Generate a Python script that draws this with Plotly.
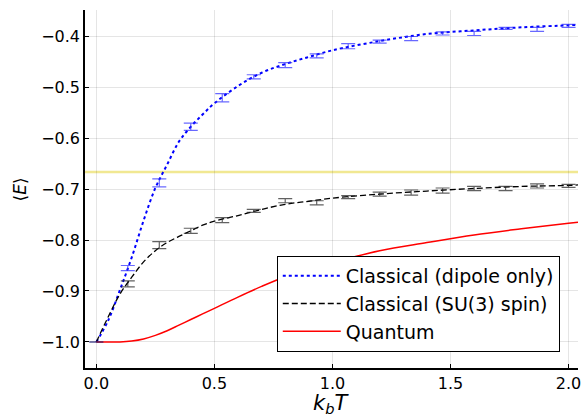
import plotly.graph_objects as go

# ---------------- data ----------------
T_mc = [0.0, 0.1333, 0.2667, 0.4, 0.5333, 0.6667, 0.8, 0.9333, 1.0667, 1.2,
        1.3333, 1.4667, 1.6, 1.7333, 1.8667, 2.0]
E_dipole = [-1.0, -0.855, -0.688, -0.578, -0.521, -0.480, -0.457, -0.439, -0.420,
            -0.411, -0.405, -0.395, -0.395, -0.385, -0.387, -0.380]
err_dipole = [0.0, 0.005, 0.008, 0.007, 0.008, 0.004, 0.005, 0.004, 0.005,
              0.003, 0.004, 0.003, 0.004, 0.002, 0.004, 0.003]
E_su3 = [-1.0, -0.886, -0.810, -0.782, -0.761, -0.743, -0.723, -0.727, -0.716,
         -0.710, -0.707, -0.703, -0.699, -0.699, -0.694, -0.694]
err_su3 = [0.0, 0.006, 0.007, 0.005, 0.005, 0.003, 0.004, 0.004, 0.003,
           0.004, 0.005, 0.005, 0.004, 0.004, 0.004, 0.003]

T_curve = [0.0, 0.05, 0.1, 0.15, 0.2, 0.25, 0.3, 0.35, 0.4, 0.45, 0.5, 0.6, 0.7,
           0.8, 0.9, 1.0, 1.2, 1.4, 1.6, 1.8, 2.0, 2.04]
fit_dipole = [-1.0, -0.958, -0.898, -0.834, -0.762, -0.698, -0.652, -0.607, -0.578,
              -0.554, -0.532, -0.498, -0.472, -0.455, -0.441, -0.428, -0.410,
              -0.396, -0.389, -0.383, -0.379, -0.378]
fit_su3 = [-1.0, -0.951, -0.906, -0.873, -0.843, -0.821, -0.805, -0.793, -0.782,
           -0.771, -0.763, -0.752, -0.740, -0.730, -0.724, -0.718, -0.710,
           -0.704, -0.699, -0.695, -0.693, -0.692]
quantum = [-1.0, -1.0, -0.9998, -0.998, -0.994, -0.987, -0.978, -0.967, -0.956,
           -0.945, -0.934, -0.912, -0.891, -0.872, -0.857, -0.844, -0.821,
           -0.805, -0.790, -0.778, -0.767, -0.765]

E_ref = -2.0 / 3.0
x_ticks = [0.0, 0.5, 1.0, 1.5, 2.0]
x_labels = ["0.0", "0.5", "1.0", "1.5", "2.0"]
y_ticks = [-1.0, -0.9, -0.8, -0.7, -0.6, -0.5, -0.4]
y_labels = ["\u22121.0", "\u22120.9", "\u22120.8", "\u22120.7", "\u22120.6", "\u22120.5", "\u22120.4"]

FONT = "DejaVu Sans"

fig = go.Figure()

# reference horizontal line
fig.add_hline(y=E_ref, line=dict(color="rgba(236,224,110,0.75)", width=2.5), layer="below")

# fit curves
fig.add_trace(go.Scatter(x=T_curve, y=fit_dipole, mode="lines", name="Classical (dipole only)",
                         line=dict(color="blue", width=2, dash="dot", shape="spline")))
fig.add_trace(go.Scatter(x=T_curve, y=fit_su3, mode="lines", name="Classical (SU(3) spin)",
                         line=dict(color="black", width=1.3, dash="6px,3px", shape="spline")))
fig.add_trace(go.Scatter(x=T_curve, y=quantum, mode="lines", name="Quantum",
                         line=dict(color="red", width=1.5, shape="spline")))

# error bars for MC data
fig.add_trace(go.Scatter(x=T_mc, y=E_dipole, mode="markers", showlegend=False,
                         marker=dict(size=1, color="rgba(0,0,255,0)"),
                         error_y=dict(type="data", array=err_dipole, visible=True,
                                      color="rgba(40,40,255,0.7)", thickness=1.2, width=7)))
fig.add_trace(go.Scatter(x=T_mc, y=E_su3, mode="markers", showlegend=False,
                         marker=dict(size=1, color="rgba(0,0,0,0)"),
                         error_y=dict(type="data", array=err_su3, visible=True,
                                      color="rgba(30,30,30,0.7)", thickness=1.2, width=7)))

axis_common = dict(showline=True, linecolor="black", linewidth=1.5, mirror=False,
                   showgrid=True, gridcolor="rgba(0,0,0,0.1)", gridwidth=1,
                   ticks="inside", ticklen=4, tickcolor="black", tickwidth=1,
                   zeroline=False, automargin=False,
                   tickfont=dict(family=FONT, size=16, color="black"))

fig.update_layout(
    width=587, height=418,
    margin=dict(l=85, r=9, t=10, b=50),
    paper_bgcolor="white", plot_bgcolor="white",
    font=dict(family=FONT, color="black"),
    xaxis=dict(range=[-0.048, 2.04], tickvals=x_ticks, ticktext=x_labels, **axis_common),
    yaxis=dict(range=[-1.051, -0.349], tickvals=y_ticks, ticktext=y_labels, **axis_common),
    legend=dict(x=0.389, y=0.313, xanchor="left", yanchor="top",
                bgcolor="white", bordercolor="black", borderwidth=1,
                font=dict(family=FONT, size=19, color="black"),
                itemwidth=58),
    showlegend=True,
    annotations=[
        dict(text="<i>k</i><sub><i>b</i></sub><i>T</i>", xref="paper", yref="paper",
             x=0.5, y=-0.1, xanchor="center", yanchor="middle", showarrow=False,
             font=dict(family=FONT, size=21, color="black")),
        dict(text="\u27e8<i>E</i>\u27e9", xref="paper", yref="paper",
             x=-0.131, y=0.5, xanchor="center", yanchor="middle", showarrow=False,
             textangle=-90, font=dict(family=FONT, size=17, color="black")),
    ],
)

fig.write_html("out.html", config={"displayModeBar": False},
               post_script="document.body.style.margin='0';document.body.style.padding='0';")
